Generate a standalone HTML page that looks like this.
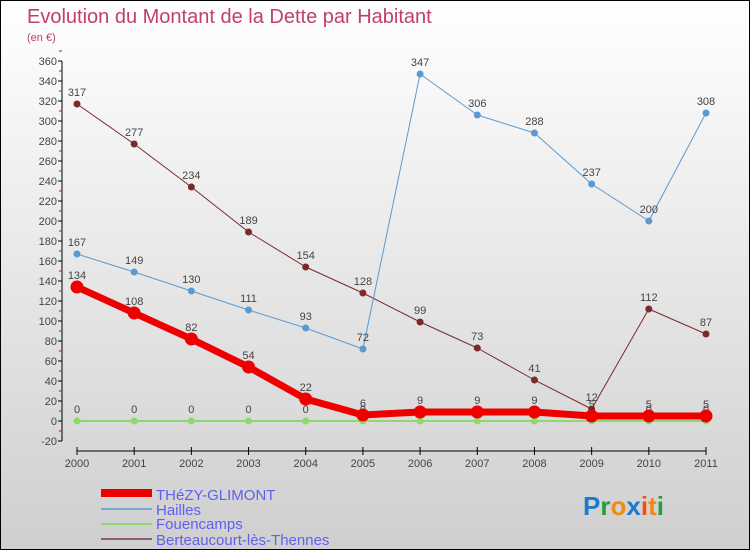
<!DOCTYPE html>
<html><head><meta charset="utf-8"><style>
body{margin:0;}
#c{width:750px;height:550px;position:relative;box-sizing:border-box;border:1px solid #000;background:linear-gradient(#fff,#cfcfcf);font-family:"Liberation Sans",sans-serif;overflow:hidden;}
text{font-family:"Liberation Sans",sans-serif;}
</style></head><body>
<div id="c">
<svg id="s" width="750" height="550">
<text x="26" y="22" font-size="20" fill="#c0406a">Evolution du Montant de la Dette par Habitant</text>
<text x="26" y="40" font-size="11" fill="#c0406a">(en €)</text>
<g id="axes"></g><g id="series"></g>
<g>
<rect x="100" y="488" width="51" height="8" fill="#e00"/>
<text x="155" y="499" font-size="15" fill="#6060f0">THéZY-GLIMONT</text>
<line x1="100" y1="508" x2="151" y2="508" stroke="#7aaad0" stroke-width="2"/>
<text x="155" y="514" font-size="15" fill="#6060f0">Hailles</text>
<line x1="100" y1="523" x2="151" y2="523" stroke="#8fd870" stroke-width="2"/>
<text x="155" y="528" font-size="15" fill="#6060f0">Fouencamps</text>
<line x1="100" y1="538" x2="151" y2="538" stroke="#906060" stroke-width="2"/>
<text x="155" y="544" font-size="15" fill="#6060f0">Berteaucourt-lès-Thennes</text>
</g>
<text x="582" y="514" font-size="26" font-weight="bold"><tspan fill="#1a7ad0">P</tspan><tspan fill="#2a9a3a">r</tspan><tspan fill="#f08a10">o</tspan><tspan fill="#1a7ad0">x</tspan><tspan fill="#f05010">i</tspan><tspan fill="#f08a10">t</tspan><tspan fill="#2a9a3a">i</tspan></text>
</svg>
</div>
<script>
const years=[2000,2001,2002,2003,2004,2005,2006,2007,2008,2009,2010,2011];
const thezy=[134,108,82,54,22,6,9,9,9,5,5,5];
const hailles=[167,149,130,111,93,72,347,306,288,237,200,308];
const fouencamps=[0,0,0,0,0,0,0,0,0,0,0,0];
const berteaucourt=[317,277,234,189,154,128,99,73,41,12,112,87];
const yTicks=[-20,0,20,40,60,80,100,120,140,160,180,200,220,240,260,280,300,320,340,360];
const NS="http://www.w3.org/2000/svg";
const xS=i=>76+i*(705-76)/11;
const yS=v=>420-v*(360/360);
function mk(t,a,p){const e=document.createElementNS(NS,t);for(const k in a)e.setAttribute(k,a[k]);p.appendChild(e);return e;}
const ax=document.getElementById('axes'),sr=document.getElementById('series');
let l=mk('line',{x1:61,y1:yS(360),x2:61,y2:yS(-20),stroke:'#000'},ax);


yTicks.forEach(v=>{
 let t=mk('line',{x1:57,y1:yS(v),x2:61,y2:yS(v),stroke:'#000'},ax);
 
 
 let m=mk('line',{x1:58,y1:yS(v+10),x2:61,y2:yS(v+10),stroke:'#e00'},ax);
 
 
 let tx=mk('text',{x:56,y:yS(v)+4,'text-anchor':'end','font-size':11,fill:'#444'},ax);tx.textContent=v;
 
 
});
let xa=mk('line',{x1:xS(0),y1:450,x2:xS(11),y2:450,stroke:'#000'},ax);


years.forEach((y,i)=>{
 let t=mk('line',{x1:xS(i),y1:446,x2:xS(i),y2:454,stroke:'#000'},ax);
 
 
 let tx=mk('text',{x:xS(i),y:466,'text-anchor':'middle','font-size':11,fill:'#444'},ax);tx.textContent=y;
 
 
});
function series(d,name,col,w,r){
 const g=mk('g',{},sr);
 
 
 const pl=mk('polyline',{points:d.map((v,i)=>xS(i)+','+yS(v)).join(' '),fill:'none',stroke:col,'stroke-width':w,'stroke-linejoin':'round'},g);
 
 
 d.forEach((v,i)=>{
  const c=mk('circle',{cx:xS(i),cy:yS(v),r:r,fill:col},g);
  
  
  const t=mk('text',{x:xS(i),y:yS(v)-8,'text-anchor':'middle','font-size':11,fill:'#444'},g);t.textContent=v;
  
  
 });
}
series(fouencamps,'fouencamps','#8fd870',2,3.5);
series(berteaucourt,'berteaucourt','#7a2a2a',1,3.5);
series(hailles,'hailles','#5a9ad0',1,3.5);
series(thezy,'thezy','#ee0000',7,6.5);
</script>
</body></html>
